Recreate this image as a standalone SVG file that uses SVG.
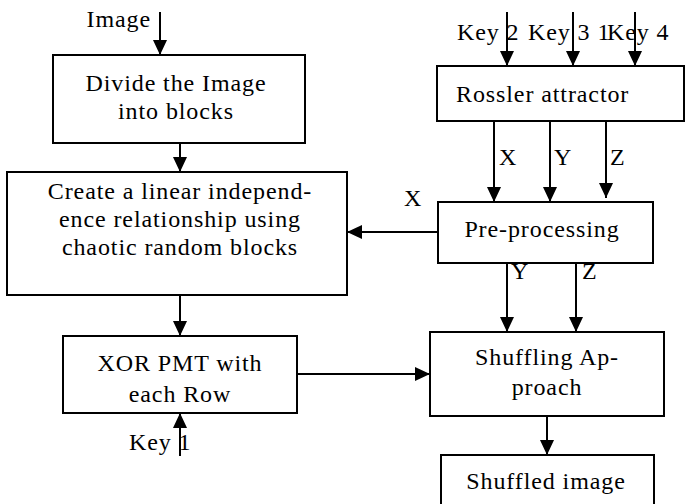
<svg xmlns="http://www.w3.org/2000/svg" width="686" height="504" viewBox="0 0 686 504">
<style>
.box{fill:#fff;stroke:#000;stroke-width:2}
.t{font-family:"Liberation Serif","DejaVu Serif",serif;font-size:24px;letter-spacing:0.9px;fill:#000}
.c{text-anchor:middle}
.ln{stroke:#000;stroke-width:2;fill:none}
.ar{marker-end:url(#ah)}
</style>
<defs>
<marker id="ah" markerWidth="16" markerHeight="14" refX="15" refY="7" orient="auto" markerUnits="userSpaceOnUse">
<path d="M0,0 L15,7 L0,14 z" fill="#000"/>
</marker>
</defs>
<rect width="686" height="504" fill="#fff"/>
<g id="connectors">
<line class="ln ar" x1="160" y1="12" x2="160" y2="55"/>
<line class="ln ar" x1="180" y1="143" x2="180" y2="172"/>
<line class="ln ar" x1="180" y1="295" x2="180" y2="336"/>
<line class="ln ar" x1="180" y1="456" x2="180" y2="413"/>
<line class="ln ar" x1="297" y1="374" x2="430" y2="374"/>
<line class="ln ar" x1="507" y1="12" x2="507" y2="66"/>
<line class="ln ar" x1="573" y1="12" x2="573" y2="66"/>
<line class="ln ar" x1="635" y1="12" x2="635" y2="66"/>
<line class="ln ar" x1="494" y1="121" x2="494" y2="202"/>
<line class="ln ar" x1="550" y1="121" x2="550" y2="202"/>
<line class="ln ar" x1="606" y1="118" x2="606" y2="198"/>
<line class="ln ar" x1="438" y1="232" x2="347" y2="232"/>
<line class="ln ar" x1="507" y1="264" x2="507" y2="332"/>
<line class="ln ar" x1="576" y1="264" x2="576" y2="332"/>
<line class="ln ar" x1="547" y1="416" x2="547" y2="455"/>
<text class="t" x="151" y="27" text-anchor="end">Image</text>
<text class="t" x="129" y="450">Key 1</text>
<text class="t" x="457" y="40">Key 2</text>
<text class="t" x="528" y="40">Key 3 1</text>
<text class="t" x="607" y="40">Key 4</text>
<text class="t" x="499" y="165">X</text>
<text class="t" x="554" y="165">Y</text>
<text class="t" x="610" y="165">Z</text>
<text class="t" x="404" y="206">X</text>
<text class="t" x="511" y="279">Y</text>
<text class="t" x="582" y="279">Z</text>
</g>
<g id="n1"><rect class="box" x="53" y="55" width="252" height="88"/>
<text class="t c" x="176" y="91">Divide the Image</text>
<text class="t c" x="176" y="119">into blocks</text></g>
<g id="n2"><rect class="box" x="7" y="172" width="340" height="123"/>
<text class="t c" x="180" y="199">Create a linear independ-</text>
<text class="t c" x="180" y="227">ence relationship using</text>
<text class="t c" x="180" y="255">chaotic random blocks</text></g>
<g id="n3"><rect class="box" x="63" y="336" width="234" height="77"/>
<text class="t c" x="180" y="371">XOR PMT with</text>
<text class="t c" x="180" y="402">each Row</text></g>
<g id="n4"><rect class="box" x="437" y="66" width="247" height="55"/>
<text class="t" x="456" y="102">Rossler attractor</text></g>
<g id="n5"><rect class="box" x="438" y="202" width="215" height="61"/>
<text class="t c" x="542" y="237">Pre-processing</text></g>
<g id="n6"><rect class="box" x="430" y="332" width="234" height="84"/>
<text class="t c" x="547" y="365">Shuffling Ap-</text>
<text class="t c" x="547" y="395">proach</text></g>
<g id="n7"><rect class="box" x="441" y="455" width="213" height="60"/>
<text class="t c" x="546" y="489">Shuffled image</text></g>
</svg>
